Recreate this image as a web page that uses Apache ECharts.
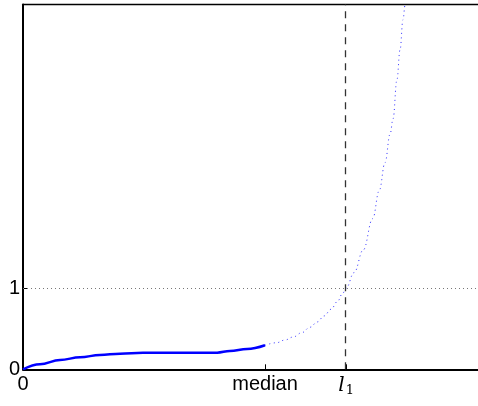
<!DOCTYPE html>
<html><head><meta charset="utf-8">
<script src="https://cdn.jsdelivr.net/npm/echarts@6/dist/echarts.min.js"></script>
<style>html,body{margin:0;padding:0;background:#fff}#c{width:478px;height:406px}</style>
</head><body><div id="c"></div>
<script>
// x in units where median = 1
var MEDIAN = 1.0;
var L1 = 1.335;
var xTickValues = [0, MEDIAN, L1];
var xTickLabels = ['0', 'median', '{l|l}{s|1}'];
var yTickValues = [0, 1];
var yTickLabels = ['0', '1'];
var solidX = [0, 0.070, 0.153, 0.236, 0.318, 0.401, 0.496, 0.649, 0.802, 0.855, 0.926, 1.0];
var solidY = [0, 0.062, 0.115, 0.148, 0.177, 0.193, 0.205, 0.205, 0.205, 0.226, 0.25, 0.296];
var dottedX = [1.0, 1.048, 1.083, 1.117, 1.152, 1.186, 1.216, 1.244, 1.273, 1.299, 1.321, 1.335, 1.368, 1.406, 1.445, 1.472, 1.496, 1.517, 1.529, 1.545, 1.558, 1.570, 1.579, 1.585];
var dottedY = [0.296, 0.328, 0.362, 0.399, 0.452, 0.519, 0.584, 0.658, 0.741, 0.835, 0.938, 1.0, 1.193, 1.473, 1.859, 2.205, 2.551, 2.905, 3.09, 3.571, 3.942, 4.312, 4.498, 4.7];

function zip(a, b) { return a.map(function (v, i) { return [v, b[i]]; }); }

var chart = echarts.init(document.getElementById('c'), null, {renderer: 'canvas'});
chart.setOption({
  animation: false,
  grid: {left: 23, top: 4.5, bottom: 36.7, right: 0},
  xAxis: [{
    type: 'value', min: 0, max: 1.88,
    splitLine: {show: false},
    axisLine: {show: true, onZero: false, lineStyle: {color: '#000', width: 2}},
    axisTick: {show: true, inside: true, length: 5, customValues: [MEDIAN, L1], lineStyle: {color: '#000', width: 1}},
    axisLabel: {
      customValues: xTickValues,
      margin: 5,
      fontSize: 20, fontFamily: 'Liberation Sans, Arial, sans-serif', color: '#000',
      formatter: function (v) { var i = xTickValues.indexOf(v); return i >= 0 ? xTickLabels[i] : ''; },
      rich: {
        l: {fontSize: 20, fontFamily: 'DejaVu Serif, serif', fontStyle: 'italic', color: '#000'},
        s: {fontSize: 13, fontFamily: 'DejaVu Serif, serif', color: '#000', padding: [10, 0, 0, 1]}
      }
    }
  }, {
    type: 'value', position: 'top', min: 0, max: 1.88,
    splitLine: {show: false},
    axisLine: {show: true, onZero: false, lineStyle: {color: '#000', width: 1.3}},
    axisTick: {show: false}, axisLabel: {show: false}
  }],
  yAxis: {
    type: 'value', min: 0, max: 4.5,
    splitLine: {show: false},
    axisLine: {show: true, onZero: false, lineStyle: {color: '#000', width: 2}},
    axisTick: {show: true, inside: true, length: 5, customValues: [1], lineStyle: {color: '#000', width: 1}},
    axisLabel: {
      customValues: yTickValues,
      margin: 3,
      fontSize: 20, fontFamily: 'Liberation Sans, Arial, sans-serif', color: '#000',
      formatter: function (v) { var i = yTickValues.indexOf(v); return i >= 0 ? yTickLabels[i] : ''; }
    }
  },
  series: [
    {
      type: 'line', data: zip(solidX, solidY), smooth: 0.4, smoothMonotone: 'x', showSymbol: false,
      lineStyle: {color: '#0000ff', width: 2.5}, z: 3,
      markLine: {
        silent: true, symbol: 'none', label: {show: false},
        data: [
          {yAxis: 1, lineStyle: {color: '#777', type: [1, 3], width: 1}},
          {xAxis: L1, lineStyle: {color: '#333', type: [7, 6], width: 1.3}}
        ]
      }
    },
    {
      type: 'line', data: zip(dottedX, dottedY), smooth: 0.4, smoothMonotone: 'x', showSymbol: false,
      lineStyle: {color: '#3333ff', width: 1, type: [1, 3.5]}, z: 3
    }
  ]
});
</script></body></html>
